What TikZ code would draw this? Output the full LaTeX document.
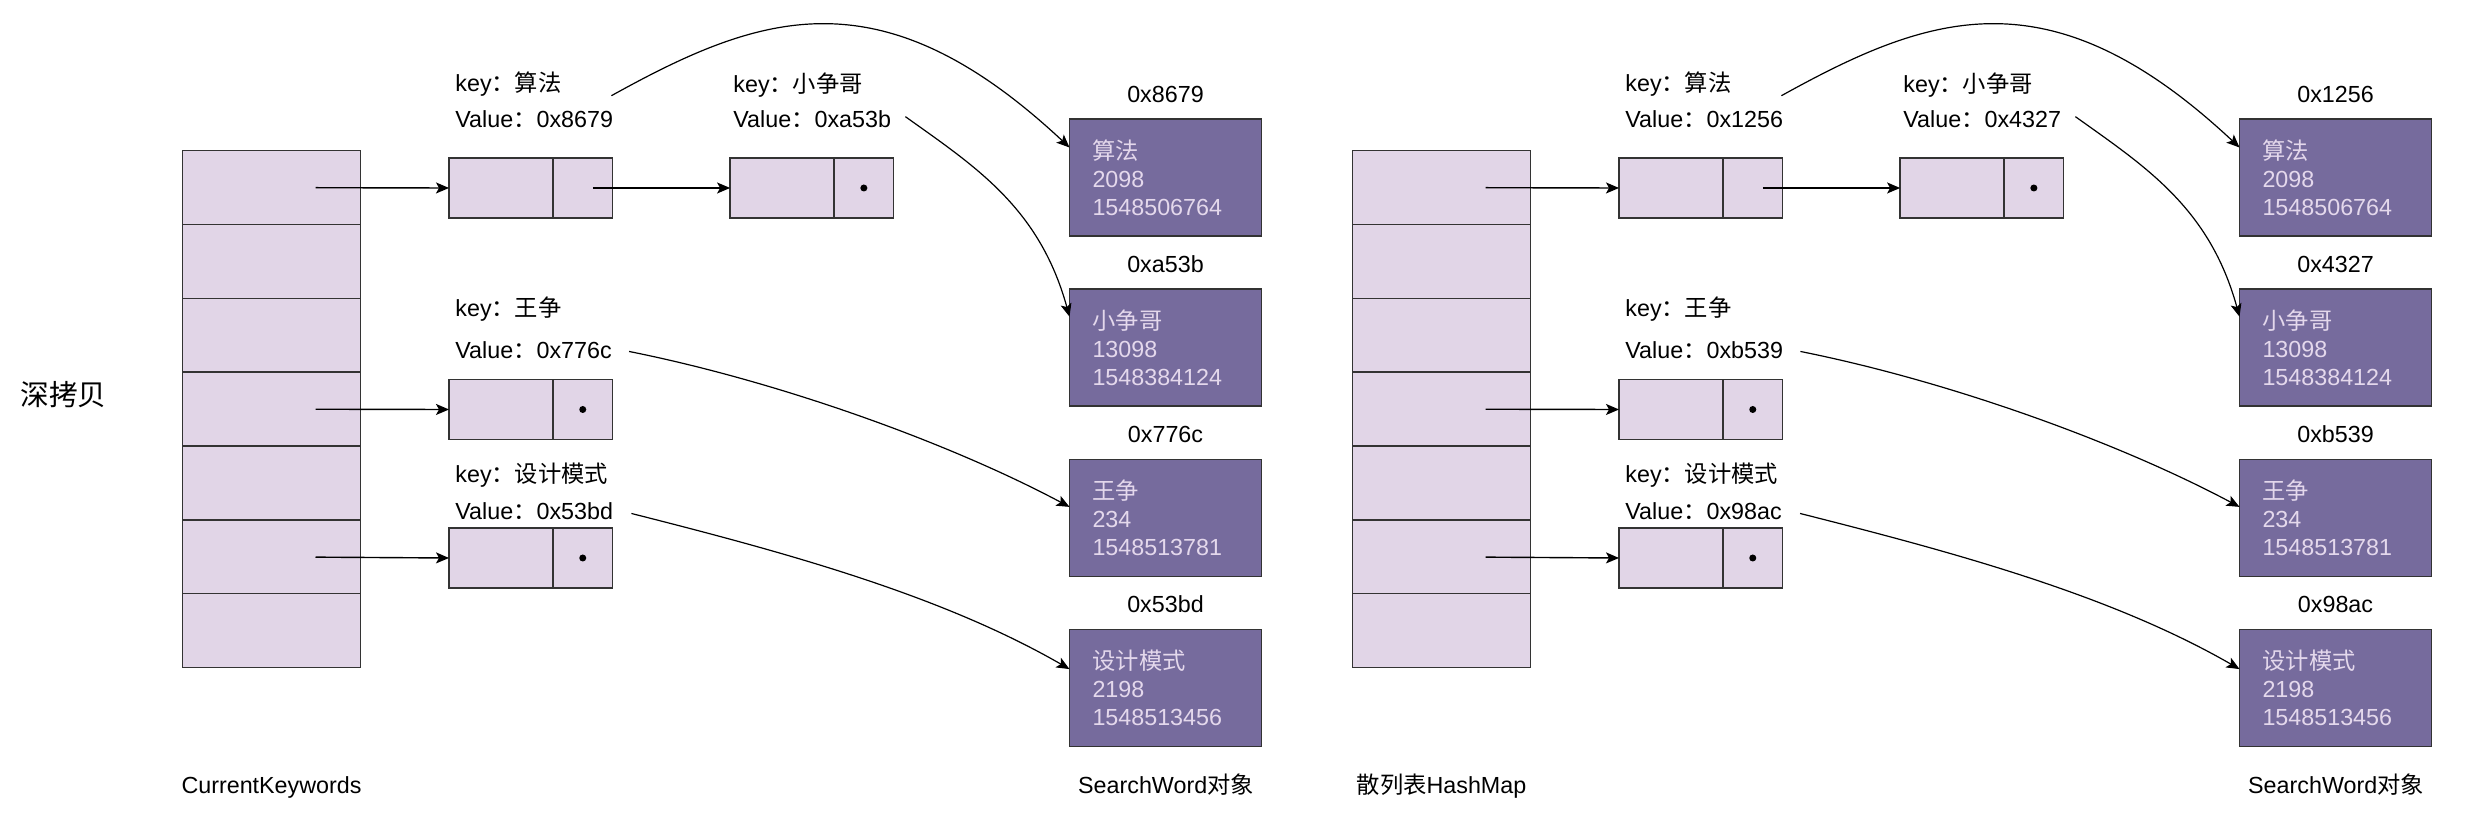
\documentclass[tikz,border=0pt]{standalone}
\usepackage{fontspec}
\setmainfont{Liberation Sans}
\newfontfamily\cjk{Noto Sans CJK SC}
\usepackage{tikz}
\usetikzlibrary{arrows.meta,positioning,calc}
\definecolor{lav}{HTML}{E1D5E7}
\definecolor{objfill}{HTML}{766B9D}
\definecolor{objtext}{HTML}{E4D8EC}
\definecolor{linec}{HTML}{333333}

\begin{document}
\begin{tikzpicture}[
  x=0.5pt, y=-0.5pt,
  font=\fontsize{11.65pt}{14pt}\selectfont,
  cell/.style={draw=linec, fill=lav, line width=0.7pt, inner sep=0pt, outer sep=0pt,
               minimum width=89pt, minimum height=36.9pt},
  keypart/.style={cell, minimum width=52pt, minimum height=30pt},
  ptrpart/.style={cell, minimum width=29.75pt, minimum height=30pt},
  obj/.style={draw=linec, fill=objfill, line width=0.7pt, text=objtext, align=left,
              text width=73pt, inner xsep=11.5pt, inner ysep=0pt, outer sep=0pt,
              minimum height=58.5pt},
  lbl/.style={inner sep=0pt, anchor=base west},
  arr/.style={-{Stealth[length=6.5pt, width=5.5pt, inset=1.5pt]}, line width=0.7pt},
  curve/.style={arr, line width=0.6pt}]

\useasboundingbox (0,0) rectangle (2468,817);

\node[anchor=west, inner sep=0pt, font=\fontsize{14.35pt}{16pt}\selectfont\cjk] (title) at (20,395) {深拷贝};

\foreach \s/\dx/\ttl/\va/\vb/\vc/\vd in
  {L/0/CurrentKeywords/0x8679/0xa53b/0x776c/0x53bd,
   R/1170/{\cjk 散列表}HashMap/0x1256/0x4327/0xb539/0x98ac} {

  % table
  \foreach \i in {1,...,7}
    \node[cell, anchor=north] (t\s\i) at (\dx+271.5, 76.85+73.85*\i) {};
  \node[anchor=base, inner sep=0pt] (cap\s) at (\dx+271.5, 793) {\ttl};

  % entries
  \node[keypart, anchor=north west] (e\s1) at (\dx+449, 158) {};
  \node[ptrpart, right=0pt of e\s1] (p\s1) {};
  \node[keypart, right=58.8pt of p\s1] (e\s2) {};
  \node[ptrpart, right=0pt of e\s2] (p\s2) {};
  \node[keypart, anchor=north west] (e\s3) at (\dx+449, 379.5) {};
  \node[ptrpart, right=0pt of e\s3] (p\s3) {};
  \node[keypart, anchor=north west] (e\s4) at (\dx+449, 528) {};
  \node[ptrpart, right=0pt of e\s4] (p\s4) {};
  \foreach \j in {2,3,4}
    \fill (p\s\j) circle (3.5);

  \node[lbl] (k\s1) at (\dx+455, 92)    {key{\cjk ：算法}};
  \node[lbl] (v\s1) at (\dx+455, 128)   {Value{\cjk ：}\va};
  \node[lbl] (k\s2) at (\dx+733, 93)    {key{\cjk ：小争哥}};
  \node[lbl] (v\s2) at (\dx+733, 128)   {Value{\cjk ：}\vb};
  \node[lbl] (k\s3) at (\dx+455, 316.7) {key{\cjk ：王争}};
  \node[lbl] (v\s3) at (\dx+455, 358.3) {Value{\cjk ：}\vc};
  \node[lbl] (k\s4) at (\dx+455, 482.7) {key{\cjk ：设计模式}};
  \node[lbl] (v\s4) at (\dx+455, 519.3) {Value{\cjk ：}\vd};

  % SearchWord objects
  \node[obj, anchor=north west] (o\s1) at (\dx+1069.5, 119)
       {{\cjk 算法}\\2098\\1548506764};
  \node[obj, below=26.6pt of o\s1] (o\s2) {{\cjk 小争哥}\\13098\\1548384124};
  \node[obj, below=26.6pt of o\s2] (o\s3) {{\cjk 王争}\\234\\1548513781};
  \node[obj, below=26.6pt of o\s3] (o\s4) {{\cjk 设计模式}\\2198\\1548513456};
  \node[above=8pt of o\s1, inner sep=0pt] (a\s1) {\va};
  \node[above=8pt of o\s2, inner sep=0pt] (a\s2) {\vb};
  \node[above=8pt of o\s3, inner sep=0pt] (a\s3) {\vc};
  \node[above=8pt of o\s4, inner sep=0pt] (a\s4) {\vd};
  \node[anchor=base, inner sep=0pt] (sw\s) at (\dx+1166, 793) {SearchWord{\cjk 对象}};

  \foreach \a/\b in {t\s1/e\s1, t\s4/e\s3, t\s6/e\s4}
    \draw[arr, shorten <=22pt] (\a.center) -- (\b.west);
  \draw[arr, shorten <=5pt] (p\s1.center) -- (e\s2.west);

  \draw[curve] ($(v\s1.north east)+(-2,-15)$) .. controls +(148,-82) and +(-189,-177) ..
     ($(o\s1.west)+(0,-30)$);
  \draw[curve] ($(v\s2.east)+(14,-3)$) .. controls +(70,50) and +(-30,-109) ..
     ($(o\s2.west)+(0,-31)$);
  \draw[curve] ($(v\s3.east)+(17,1.5)$) .. controls +(150,30) and +(-120,-64) ..
     ($(o\s3.west)+(0,-11)$);
  \draw[curve] ($(v\s4.east)+(18,2.5)$) .. controls +(150,38) and +(-130,-75) ..
     ($(o\s4.west)+(0,-19)$);
}
\end{tikzpicture}
\end{document}
